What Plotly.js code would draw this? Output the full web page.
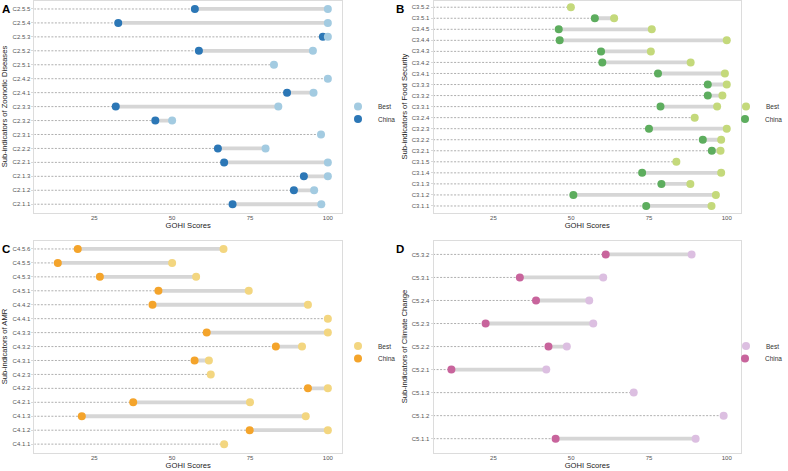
<!DOCTYPE html>
<html>
<head>
<meta charset="utf-8">
<script src="https://cdn.plot.ly/plotly-3.0.1.min.js"></script>
<style>
  html, body { margin: 0; padding: 0; background: #fff; }
  #chart { width: 788px; height: 471px; }
</style>
</head>
<body>
<div id="chart"></div>
<script>
// Panel A - Zoonotic Diseases (bottom to top)
const catsA = ["C2.1.1","C2.1.2","C2.1.3","C2.2.1","C2.2.2","C2.3.1","C2.3.2","C2.3.3","C2.4.1","C2.4.2","C2.5.1","C2.5.2","C2.5.3","C2.5.4","C2.5.5"];
const bestA  = [97.9, 95.6, 100, 100, 80.0, 97.8, 50.0, 84.1, 95.4, 100, 82.7, 95.2, 100, 100, 100];
const chinaA = [69.4, 89.1, 92.3, 66.7, 64.7, null, 44.6, 31.9, 86.9, null, null, 58.6, 98.4, 32.7, 57.3];

// Panel B - Food Security
const catsB = ["C3.1.1","C3.1.2","C3.1.3","C3.1.4","C3.1.5","C3.2.1","C3.2.2","C3.2.3","C3.2.4","C3.3.1","C3.3.2","C3.3.3","C3.4.1","C3.4.2","C3.4.3","C3.4.4","C3.4.5","C3.5.1","C3.5.2"];
const bestB  = [95.1, 96.5, 88.3, 98.2, 83.8, 98.0, 98.2, 100, 89.7, 96.9, 98.6, 100, 99.4, 88.4, 75.6, 100, 75.9, 63.8, 49.9];
const chinaB = [74.1, 50.7, 79.0, 72.8, null, 95.2, 92.3, 75.0, null, 78.7, 93.9, 93.9, 77.9, 60.0, 59.6, 46.3, 46.0, 57.6, null];

// Panel C - AMR
const catsC = ["C4.1.1","C4.1.2","C4.1.3","C4.2.1","C4.2.2","C4.2.3","C4.3.1","C4.3.2","C4.3.3","C4.4.1","C4.4.2","C4.5.1","C4.5.3","C4.5.5","C4.5.6"];
const bestC  = [66.7, 100, 92.9, 75.0, 100, 62.4, 61.8, 91.7, 100, 100, 93.6, 74.6, 57.7, 50.0, 66.5];
const chinaC = [null, 74.9, 21.0, 37.5, 93.6, null, 57.2, 83.3, 61.1, null, 43.7, 45.6, 26.8, 13.3, 19.7];

// Panel D - Climate Change
const catsD = ["C5.1.1","C5.1.2","C5.1.3","C5.2.1","C5.2.2","C5.2.3","C5.2.4","C5.3.1","C5.3.2"];
const bestD  = [90.0, 99.0, 70.1, 42.0, 48.6, 57.1, 55.8, 60.3, 88.7];
const chinaD = [45.0, null, null, 11.5, 42.7, 22.5, 38.7, 33.5, 61.1];

const FONT = "Liberation Sans, Arial, sans-serif";
const XRANGE = [5.8, 104.5];

const panels = [
  { cats: catsA, best: bestA, china: chinaA, bestCol: "#a3cbe1", chinaCol: "#2c77b6", title: "Sub-indicators of Zoonotic Diseases",
    xd: [34.5, 342.3], yd: [0.6, 212.6], label: "A", legX: 338, legY: [106.5, 119] },
  { cats: catsB, best: bestB, china: chinaB, bestCol: "#c4d97b", chinaCol: "#5dad5e", title: "Sub-indicators of Food Security",
    xd: [434.2, 741.7], yd: [0.6, 212.6], label: "B", legX: 726, legY: [106.5, 119] },
  { cats: catsC, best: bestC, china: chinaC, bestCol: "#f3d680", chinaCol: "#f4a42b", title: "Sub-indicators of AMR",
    xd: [34.5, 342.3], yd: [240.6, 452.5], label: "C", legX: 338, legY: [346, 358.5] },
  { cats: catsD, best: bestD, china: chinaD, bestCol: "#dcbfe1", chinaCol: "#c8649c", title: "Sub-indicators of Climate Change",
    xd: [434.2, 741.7], yd: [240.6, 452.5], label: "D", legX: 726, legY: [346, 358.5] }
];

const W = 788, H = 471;
const traces = [];
const layout = {
  width: W, height: H,
  margin: { l: 0, r: 0, t: 0, b: 0 },
  paper_bgcolor: "#fff", plot_bgcolor: "#fff",
  font: { family: FONT, size: 6, color: "#4d4d4d" },
  annotations: []
};

function legName(k) { return k === 0 ? "legend" : "legend" + (k + 1); }

panels.forEach((p, i) => {
  const n = i === 0 ? "" : String(i + 1);
  const xa = "x" + n, ya = "y" + n;
  const lgBest = legName(2 * i), lgChina = legName(2 * i + 1);

  // dashed leader from the left edge to China (or Best if no China)
  const dx = [], dy = [], gx = [], gy = [];
  p.cats.forEach((c, k) => {
    const end = p.china[k] != null ? p.china[k] : p.best[k];
    dx.push(0, end, null); dy.push(c, c, null);
    if (p.china[k] != null) { gx.push(p.china[k], p.best[k], null); gy.push(c, c, null); }
  });
  traces.push({ x: dx, y: dy, xaxis: xa, yaxis: ya, type: "scatter", mode: "lines",
    line: { color: "#8c8c8c", width: 0.7, dash: "2px,1.5px" }, hoverinfo: "skip", showlegend: false });
  traces.push({ x: gx, y: gy, xaxis: xa, yaxis: ya, type: "scatter", mode: "lines",
    line: { color: "#d6d6d6", width: 3.8 }, hoverinfo: "skip", showlegend: false });
  traces.push({ x: p.china, y: p.cats, xaxis: xa, yaxis: ya, type: "scatter", mode: "markers", name: "China",
    marker: { color: p.chinaCol, size: 8 }, legend: lgChina });
  traces.push({ x: p.best, y: p.cats, xaxis: xa, yaxis: ya, type: "scatter", mode: "markers", name: "Best",
    marker: { color: p.bestCol, size: 8 }, legend: lgBest });

  layout["xaxis" + n] = {
    domain: [p.xd[0] / W, p.xd[1] / W], anchor: ya, range: XRANGE,
    tickvals: [25, 50, 75, 100], ticks: "", ticklabelstandoff: -1,
    showgrid: false, zeroline: false, showline: true, mirror: true, linecolor: "#dcdcdc", linewidth: 1,
    tickfont: { size: 6, color: "#555" },
    title: { text: "GOHI Scores", font: { size: 7.6, color: "#222" }, standoff: 0 }
  };
  layout["yaxis" + n] = {
    domain: [1 - p.yd[1] / H, 1 - p.yd[0] / H], anchor: xa,
    type: "category", categoryorder: "array", categoryarray: p.cats,
    range: [-0.6, p.cats.length - 0.4],
    ticks: "outside", ticklen: 2, tickcolor: "#d9d9d9",
    showgrid: false, zeroline: false, showline: true, mirror: true, linecolor: "#dcdcdc", linewidth: 1,
    tickfont: { size: 6, color: "#555" },
    title: { text: p.title, font: { size: 7.6, color: "#222" }, standoff: 3 }
  };
  [lgBest, lgChina].forEach((lg, j) => {
    layout[lg] = {
      x: p.legX / W, y: 1 - p.legY[j] / H, xanchor: "left", yanchor: "middle",
      bgcolor: "rgba(0,0,0,0)", borderwidth: 0, font: { size: 6.5, color: "#333" },
      itemwidth: 30
    };
  });
  layout.annotations.push({
    text: "<b>" + p.label + "</b>", xref: "paper", yref: "paper",
    x: (i % 2 === 0 ? 0 : 395) / W, y: 1 - p.yd[0] / H,
    xanchor: "left", yanchor: "top", showarrow: false,
    font: { size: 11.5, color: "#000", family: FONT }
  });
});

Plotly.newPlot("chart", traces, layout, { displayModeBar: false, staticPlot: true });
</script>
</body>
</html>
